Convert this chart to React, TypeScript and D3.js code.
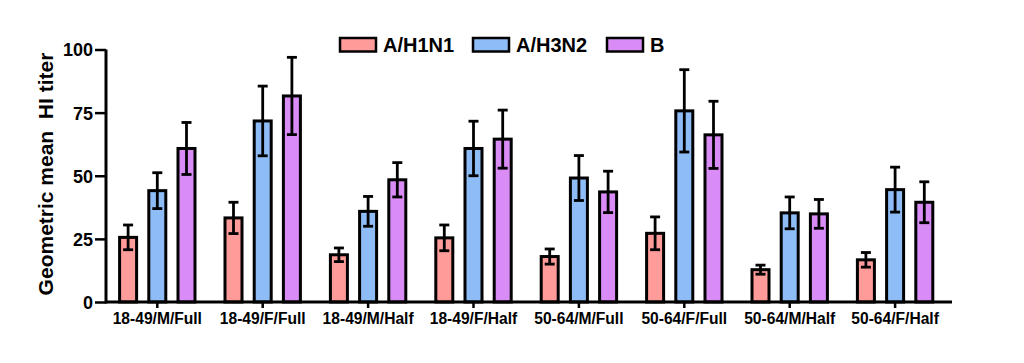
import React, { useRef, useEffect } from "react";
import * as d3 from "d3";

// Group labels along the x axis
const groups = [
  "18-49/M/Full",
  "18-49/F/Full",
  "18-49/M/Half",
  "18-49/F/Half",
  "50-64/M/Full",
  "50-64/F/Full",
  "50-64/M/Half",
  "50-64/F/Half",
];

const strains = ["A/H1N1", "A/H3N2", "B"];

// Geometric mean HI titer per group, one array per strain
const h1n1Means = [25.6, 33.3, 18.7, 25.4, 18.0, 27.2, 12.8, 16.7];
const h3n2Means = [44.1, 71.7, 35.9, 60.8, 49.1, 75.7, 35.3, 44.5];
const bMeans = [60.8, 81.6, 48.4, 64.5, 43.6, 66.2, 34.9, 39.5];

// Error bar half-widths
const h1n1Err = [4.9, 6.2, 2.7, 5.1, 3.0, 6.5, 1.8, 2.9];
const h3n2Err = [7.1, 13.8, 5.9, 10.8, 8.9, 16.3, 6.3, 8.9];
const bErr = [10.3, 15.3, 6.8, 11.5, 8.2, 13.3, 5.7, 8.1];

const yTicks = [0, 25, 50, 75, 100];

const colors = ["#FF9C9A", "#8EBCF6", "#D98BF6"];

interface Bar {
  group: string;
  strain: string;
  mean: number;
  err: number;
  color: string;
}

const FONT = "Arial, 'Liberation Sans', sans-serif";

const BarChart: React.FC = () => {
  const svgRef = useRef<SVGSVGElement | null>(null);

  useEffect(() => {
    d3.select(svgRef.current).selectAll("*").remove();

    const width = 1024;
    const height = 363;
    const margin = { top: 49.5, right: 72, bottom: 61, left: 106 };
    const innerWidth = width - margin.left - margin.right;
    const innerHeight = height - margin.top - margin.bottom;

    const means = [h1n1Means, h3n2Means, bMeans];
    const errs = [h1n1Err, h3n2Err, bErr];
    const bars: Bar[] = [];
    groups.forEach((g, i) => {
      strains.forEach((s, j) => {
        bars.push({ group: g, strain: s, mean: means[j][i], err: errs[j][i], color: colors[j] });
      });
    });

    // groups sit slightly left of centre on the axis
    const x0 = d3
      .scaleBand()
      .domain(groups)
      .range([-1.4, innerWidth - 4.2])
      .paddingInner(0)
      .paddingOuter(0);

    const x1 = d3
      .scaleBand()
      .domain(strains)
      .range([-39.2, 39.2])
      .paddingInner(0.315);

    const y = d3.scaleLinear().domain([0, 100]).range([innerHeight, 0]);

    const svg = d3
      .select(svgRef.current)
      .attr("width", width)
      .attr("height", height)
      .style("font-family", FONT)
      .style("font-weight", "bold");

    const g = svg
      .append("g")
      .attr("transform", `translate(${margin.left},${margin.top})`);

    const stroke = 3;
    const center = (d: Bar) => x0(d.group)! + x0.bandwidth() / 2;

    // Bars
    g.selectAll("rect.bar")
      .data(bars)
      .enter()
      .append("rect")
      .attr("class", "bar")
      .attr("x", (d) => center(d) + x1(d.strain)! + stroke / 2)
      .attr("y", (d) => y(d.mean))
      .attr("width", x1.bandwidth() - stroke)
      .attr("height", (d) => y(0) - y(d.mean))
      .attr("fill", (d) => d.color)
      .attr("stroke", "#000")
      .attr("stroke-width", stroke);

    // Error bars
    const capHalf = 5;
    const eb = g
      .selectAll("g.err")
      .data(bars)
      .enter()
      .append("g")
      .attr("class", "err")
      .attr("stroke", "#000")
      .attr("stroke-width", 2.8);
    const cx = (d: Bar) => center(d) + x1(d.strain)! + x1.bandwidth() / 2;
    eb.append("line")
      .attr("x1", cx)
      .attr("x2", cx)
      .attr("y1", (d) => y(d.mean + d.err))
      .attr("y2", (d) => y(d.mean - d.err));
    eb.append("line")
      .attr("x1", (d) => cx(d) - capHalf)
      .attr("x2", (d) => cx(d) + capHalf)
      .attr("y1", (d) => y(d.mean + d.err))
      .attr("y2", (d) => y(d.mean + d.err));
    eb.append("line")
      .attr("x1", (d) => cx(d) - capHalf)
      .attr("x2", (d) => cx(d) + capHalf)
      .attr("y1", (d) => y(d.mean - d.err))
      .attr("y2", (d) => y(d.mean - d.err));

    // X axis
    const xAxis = d3
      .axisBottom(x0)
      .tickSizeOuter(0)
      .tickSizeInner(6)
      .tickPadding(5);
    const xg = g
      .append("g")
      .attr("transform", `translate(0,${innerHeight})`)
      .call(xAxis);
    xg.select(".domain").attr("stroke-width", 3).attr("d", `M0,0H${innerWidth}`);
    xg.selectAll(".tick line").attr("stroke-width", 2.5);
    xg.selectAll("text")
      .attr("font-size", 15.6)
      .attr("font-weight", "bold")
      .attr("font-family", FONT)
      .attr("fill", "#000");

    // Y axis
    const yAxis = d3
      .axisLeft(y)
      .tickValues(yTicks)
      .tickSizeOuter(0)
      .tickSizeInner(11)
      .tickPadding(2);
    const yg = g.append("g").call(yAxis);
    yg.select(".domain").attr("stroke-width", 3).attr("d", `M0,${innerHeight + 1.5}V0`);
    yg.selectAll(".tick line").attr("stroke-width", 2.5);
    yg.selectAll("text")
      .attr("font-size", 18)
      .attr("font-weight", "bold")
      .attr("font-family", FONT)
      .attr("dy", "0.36em")
      .attr("fill", "#000");

    // Y axis label
    svg
      .append("text")
      .attr("transform", `translate(53, 174) rotate(-90)`)
      .attr("text-anchor", "middle")
      .attr("font-size", 21)
      .style("white-space", "pre")
      .text("Geometric mean  HI titer");

    // Legend
    const legendX = [340, 473, 607];
    const legend = svg
      .selectAll("g.legend")
      .data(strains)
      .enter()
      .append("g")
      .attr("class", "legend")
      .attr("transform", (_, i) => `translate(${legendX[i]},38)`);
    legend
      .append("rect")
      .attr("width", 36)
      .attr("height", 13.5)
      .attr("fill", (_, i) => colors[i])
      .attr("stroke", "#000")
      .attr("stroke-width", 2.5);
    legend
      .append("text")
      .attr("x", 43)
      .attr("y", 14)
      .attr("font-size", 20)
      .text((d) => d);
  }, []);

  return (
    <svg
      ref={svgRef}
      style={{ position: "absolute", left: 0, top: 0, background: "#fff" }}
    ></svg>
  );
};

export default function App() {
  return <BarChart />;
}
